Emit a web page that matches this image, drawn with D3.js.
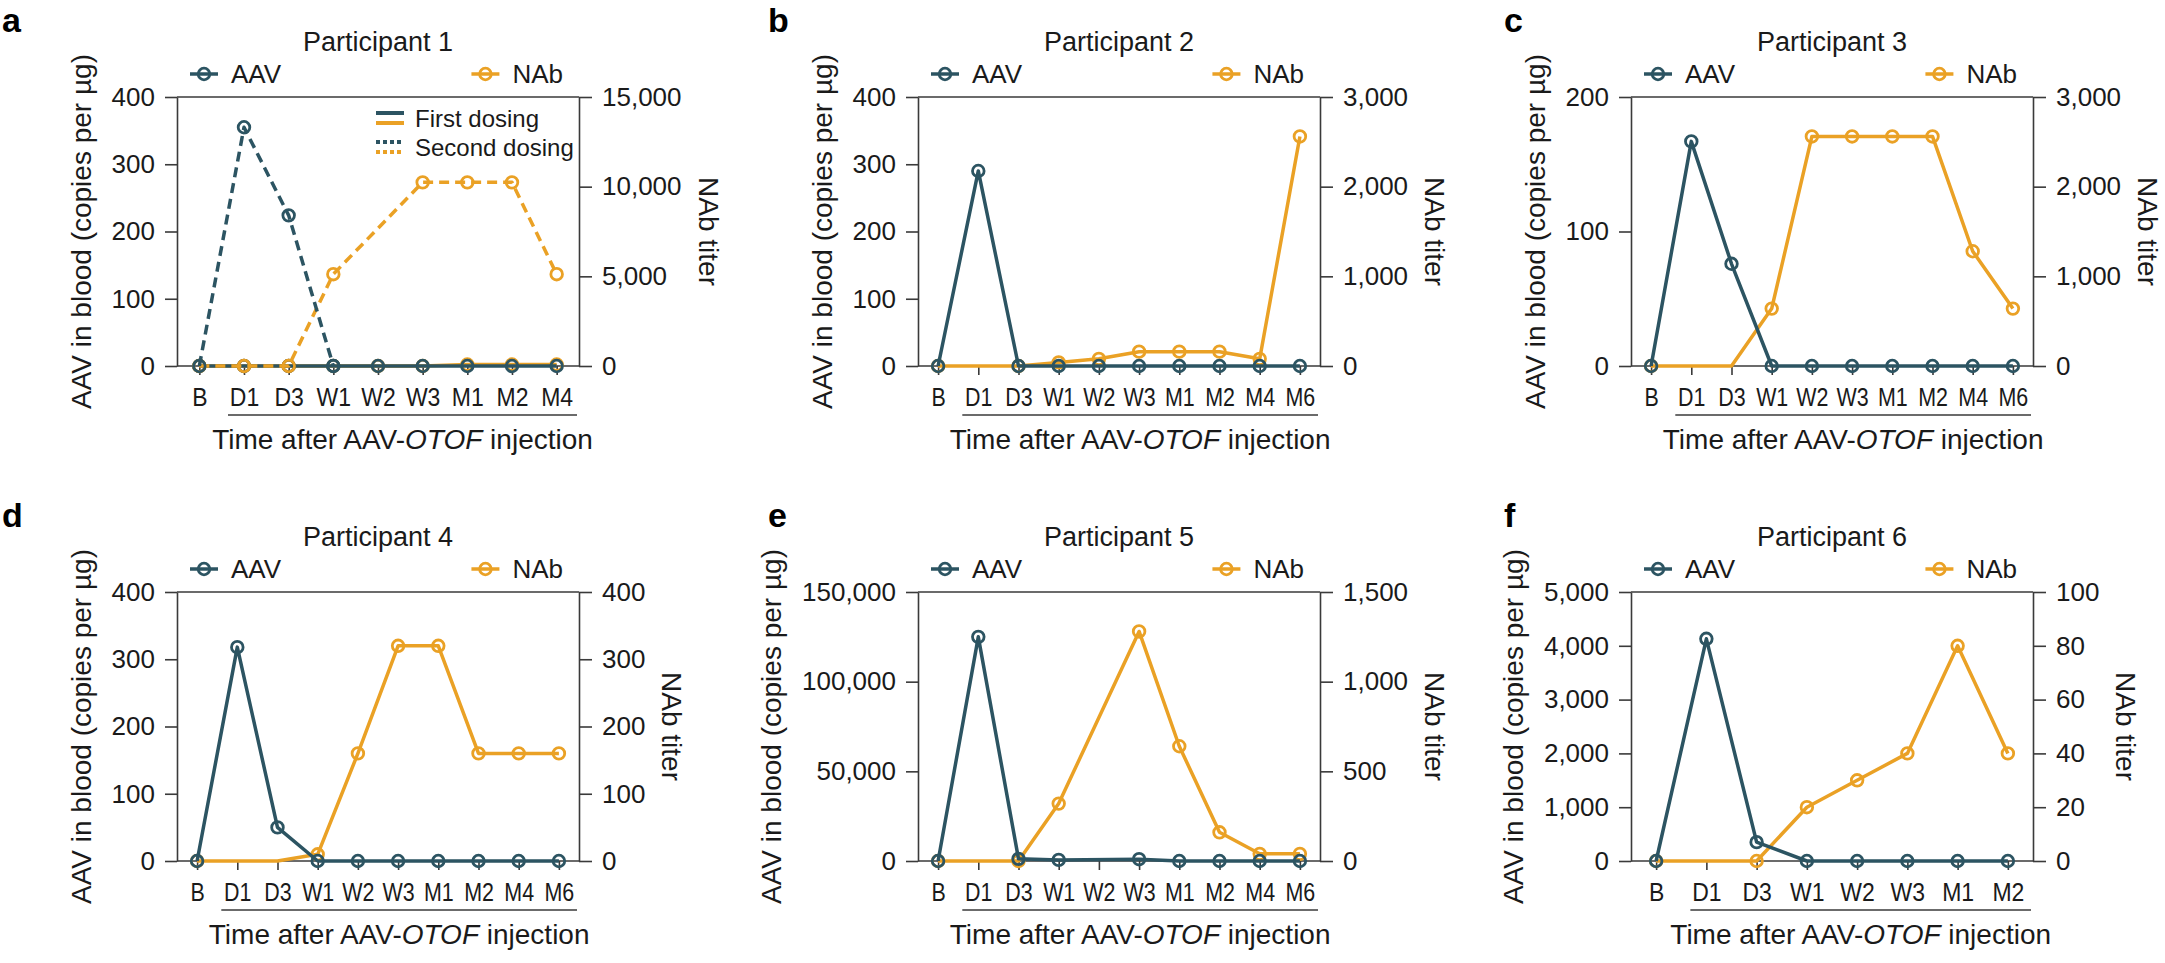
<!DOCTYPE html>
<html><head><meta charset="utf-8">
<script src="https://cdn.jsdelivr.net/npm/d3@7"></script>
<style>body{margin:0;background:#fff}svg{display:block}</style>
</head><body>
<svg id="chart" width="2165" height="963"></svg>
<script>
// ---------------- data ----------------
const participants = ["Participant 1","Participant 2","Participant 3","Participant 4","Participant 5","Participant 6"];
const panelLetters = ["a","b","c","d","e","f"];

const timeP1 = ["B","D1","D3","W1","W2","W3","M1","M2","M4"];
const timeP2to5 = ["B","D1","D3","W1","W2","W3","M1","M2","M4","M6"];
const timeP6 = ["B","D1","D3","W1","W2","W3","M1","M2"];

// Participant 1 (first dosing solid, second dosing dashed)
const p1AavFirst  = [0,0,0,0,0,0,0,0,0];
const p1NabFirst  = [0,0,0,0,0,0,80,80,80];
const p1AavSecond = [0,355,224,0,null,null,null,null,null];
const p1NabSecond = [0,0,0,5120,null,10240,10240,10240,5120];

const p2Aav = [0,290,0,0,0,0,0,0,0,0];
const p2Nab = [0,null,0,40,80,160,160,160,80,2560];

const p3Aav = [0,167,76,0,0,0,0,0,0,0];
const p3Nab = [0,null,0,640,2560,2560,2560,2560,1280,640];
const p3NabUnmarked = ["D3"];

const p4Aav = [0,318,50,0,0,0,0,0,0,0];
const p4Nab = [0,null,0,10,160,320,320,160,160,160];
const p4NabUnmarked = ["D3"];

const p5Aav = [0,125000,1200,600,null,1000,0,0,0,0];
const p5Nab = [0,null,0,320,null,1280,640,160,40,40];

const p6Aav = [0,4130,350,0,0,0,0,0];
const p6Nab = [0,null,0,20,30,40,80,40];

// axis tick values
const aavTicks = [[0,100,200,300,400],[0,100,200,300,400],[0,100,200],[0,100,200,300,400],[0,50000,100000,150000],[0,1000,2000,3000,4000,5000]];
const nabTicks = [[0,5000,10000,15000],[0,1000,2000,3000],[0,1000,2000,3000],[0,100,200,300,400],[0,500,1000,1500],[0,20,40,60,80,100]];

const legendLabels = ["AAV","NAb"];
const dosingLabels = ["First dosing","Second dosing"];
const leftTitle = "AAV in blood (copies per \u00b5g)";
const rightTitle = "NAb titer";

// ---------------- style / layout ----------------
const TEAL = "#2c5462", ORANGE = "#eaa125", AXIS = "#3a3a3a", TEXT = "#1a1a1a";
const FONT = "'Liberation Sans', Arial, sans-serif";
const colX = [177, 918, 1631], rowY = [97, 592], letterX = [2, 768, 1504];
const W = 402, H = 269;
const fmt = d3.format(",");

const panels = [
  {times: timeP1, series: [
    {vals: p1NabFirst, axis: "nab", color: ORANGE, dashed: false},
    {vals: p1AavFirst, axis: "aav", color: TEAL, dashed: false},
    {vals: p1NabSecond, axis: "nab", color: ORANGE, dashed: true},
    {vals: p1AavSecond, axis: "aav", color: TEAL, dashed: true}], dosing: true},
  {times: timeP2to5, series: [
    {vals: p2Nab, axis: "nab", color: ORANGE}, {vals: p2Aav, axis: "aav", color: TEAL}]},
  {times: timeP2to5, series: [
    {vals: p3Nab, axis: "nab", color: ORANGE, unmarked: p3NabUnmarked}, {vals: p3Aav, axis: "aav", color: TEAL}]},
  {times: timeP2to5, series: [
    {vals: p4Nab, axis: "nab", color: ORANGE, unmarked: p4NabUnmarked}, {vals: p4Aav, axis: "aav", color: TEAL}]},
  {times: timeP2to5, series: [
    {vals: p5Nab, axis: "nab", color: ORANGE}, {vals: p5Aav, axis: "aav", color: TEAL}]},
  {times: timeP6, series: [
    {vals: p6Nab, axis: "nab", color: ORANGE}, {vals: p6Aav, axis: "aav", color: TEAL}]}
];

const svg = d3.select("#chart");
svg.append("rect").attr("width", 2165).attr("height", 963).attr("fill", "#fff");

function styleAxis(g, size) {
  g.attr("font-family", FONT).attr("font-size", size || 26).attr("color", AXIS);
  g.selectAll("line, path").attr("stroke", AXIS).attr("stroke-width", 1.6);
  g.selectAll("text").attr("fill", TEXT);
}

panels.forEach((p, i) => {
  const col = i % 3, row = Math.floor(i / 3);
  const x0 = colX[col], y0 = rowY[row];
  const g = svg.append("g").attr("transform", `translate(${x0},${y0})`);

  const x = d3.scalePoint().domain(p.times).range([0, W]).padding(0.5);
  const yL = d3.scaleLinear().domain([0, d3.max(aavTicks[i])]).range([H, 0]);
  const yR = d3.scaleLinear().domain([0, d3.max(nabTicks[i])]).range([H, 0]);
  const yFor = {aav: yL, nab: yR};

  // frame lines (top and bottom)
  g.append("line").attr("x1", 0).attr("x2", W).attr("y1", 0).attr("y2", 0)
    .attr("stroke", AXIS).attr("stroke-width", 1.6);
  g.append("line").attr("x1", 0).attr("x2", W).attr("y1", H).attr("y2", H)
    .attr("stroke", AXIS).attr("stroke-width", 1.6);

  const gl = g.append("g")
    .call(d3.axisLeft(yL).tickValues(aavTicks[i]).tickFormat(fmt).tickSize(12).tickPadding(10).tickSizeOuter(0));
  styleAxis(gl);
  const gr = g.append("g").attr("transform", `translate(${W},0)`)
    .call(d3.axisRight(yR).tickValues(nabTicks[i]).tickFormat(fmt).tickSize(13).tickPadding(10).tickSizeOuter(0));
  styleAxis(gr);
  const gb = g.append("g").attr("transform", `translate(0,${H})`)
    .call(d3.axisBottom(x).tickSize(9).tickPadding(13).tickSizeOuter(0));
  gb.select(".domain").remove();
  styleAxis(gb, 25);
  // condensed category labels (the reference uses a narrow face)
  const maxB = d3.max(gb.selectAll(".tick text").nodes(), n => n.getComputedTextLength());
  const sx = Math.min(0.92, 0.8 * x.step() / maxB);
  gb.selectAll(".tick text").attr("transform", `scale(${sx},1)`);

  // axis titles
  const maxL = d3.max(gl.selectAll(".tick text").nodes(), n => n.getComputedTextLength());
  const maxR = d3.max(gr.selectAll(".tick text").nodes(), n => n.getComputedTextLength());
  g.append("text").attr("transform", `translate(${-(22 + maxL + 21)},${H / 2}) rotate(-90)`)
    .attr("text-anchor", "middle").attr("font-family", FONT).attr("font-size", 28)
    .attr("fill", TEXT).text(leftTitle);
  g.append("text").attr("transform", `translate(${W + 23 + maxR + 17},${H / 2}) rotate(90)`)
    .attr("text-anchor", "middle").attr("font-family", FONT).attr("font-size", 28)
    .attr("fill", TEXT).text(rightTitle);

  // underline + x title
  const ux1 = x(p.times[1]) - 16, ux2 = W - 2;
  g.append("line").attr("x1", ux1).attr("x2", ux2).attr("y1", H + 49).attr("y2", H + 49)
    .attr("stroke", AXIS).attr("stroke-width", 1.6);
  const xt = g.append("text").attr("x", (ux1 + ux2) / 2).attr("y", H + 83)
    .attr("text-anchor", "middle").attr("font-family", FONT).attr("font-size", 28).attr("fill", TEXT);
  xt.append("tspan").text("Time after AAV-");
  xt.append("tspan").attr("font-style", "italic").text("OTOF");
  xt.append("tspan").text(" injection");

  // title
  g.append("text").attr("x", W / 2).attr("y", -46).attr("text-anchor", "middle")
    .attr("font-family", FONT).attr("font-size", 27).attr("fill", TEXT).text(participants[i]);

  // panel letter
  svg.append("text").attr("x", letterX[col]).attr("y", y0 - 65)
    .attr("font-family", FONT).attr("font-weight", "bold").attr("font-size", 34)
    .attr("fill", "#000").text(panelLetters[i]);

  // legend (AAV left, NAb right)
  const ly = -23;
  function legendItem(cx, color) {
    g.append("line").attr("x1", cx - 14).attr("x2", cx + 14).attr("y1", ly).attr("y2", ly)
      .attr("stroke", color).attr("stroke-width", 3.5);
    g.append("circle").attr("cx", cx).attr("cy", ly).attr("r", 5.8)
      .attr("fill", "none").attr("stroke", color).attr("stroke-width", 2.8);
  }
  legendItem(27, TEAL);
  g.append("text").attr("x", 54).attr("y", ly).attr("dy", "0.36em")
    .attr("font-family", FONT).attr("font-size", 26).attr("fill", TEXT).text(legendLabels[0]);
  const nabT = g.append("text").attr("x", W - 16).attr("y", ly).attr("dy", "0.36em")
    .attr("text-anchor", "end").attr("font-family", FONT).attr("font-size", 26).attr("fill", TEXT)
    .text(legendLabels[1]);
  const nabW = nabT.node().getComputedTextLength();
  legendItem(W - 16 - nabW - 27, ORANGE);

  // dosing legend (panel a)
  if (p.dosing) {
    const dl = g.append("g");
    dl.append("line").attr("x1", 199).attr("x2", 227).attr("y1", 16).attr("y2", 16).attr("stroke", TEAL).attr("stroke-width", 4);
    dl.append("line").attr("x1", 199).attr("x2", 227).attr("y1", 26).attr("y2", 26).attr("stroke", ORANGE).attr("stroke-width", 4);
    dl.append("line").attr("x1", 199).attr("x2", 227).attr("y1", 45).attr("y2", 45).attr("stroke", TEAL).attr("stroke-width", 4).attr("stroke-dasharray", "4,3");
    dl.append("line").attr("x1", 199).attr("x2", 227).attr("y1", 55).attr("y2", 55).attr("stroke", ORANGE).attr("stroke-width", 4).attr("stroke-dasharray", "4,3");
    dl.append("text").attr("x", 238).attr("y", 21).attr("dy", "0.36em").attr("font-family", FONT)
      .attr("font-size", 24).attr("fill", TEXT).text(dosingLabels[0]);
    dl.append("text").attr("x", 238).attr("y", 50).attr("dy", "0.36em").attr("font-family", FONT)
      .attr("font-size", 24).attr("fill", TEXT).text(dosingLabels[1]);
  }

  // series
  p.series.forEach(s => {
    const y = yFor[s.axis];
    const pts = p.times.map((t, k) => ({t, v: s.vals[k]})).filter(d => d.v !== null && d.v !== undefined);
    const line = d3.line().x(d => x(d.t)).y(d => y(d.v));
    g.append("path").datum(pts).attr("d", line).attr("fill", "none")
      .attr("stroke", s.color).attr("stroke-width", 3.5).attr("stroke-linejoin", "round")
      .attr("stroke-dasharray", s.dashed ? "10,6" : null);
    const unm = s.unmarked || [];
    g.selectAll(null).data(pts.filter(d => !unm.includes(d.t))).enter().append("circle")
      .attr("cx", d => x(d.t)).attr("cy", d => y(d.v)).attr("r", 5.8)
      .attr("fill", "none").attr("stroke", s.color).attr("stroke-width", 2.8);
  });
});
</script>
</body></html>
